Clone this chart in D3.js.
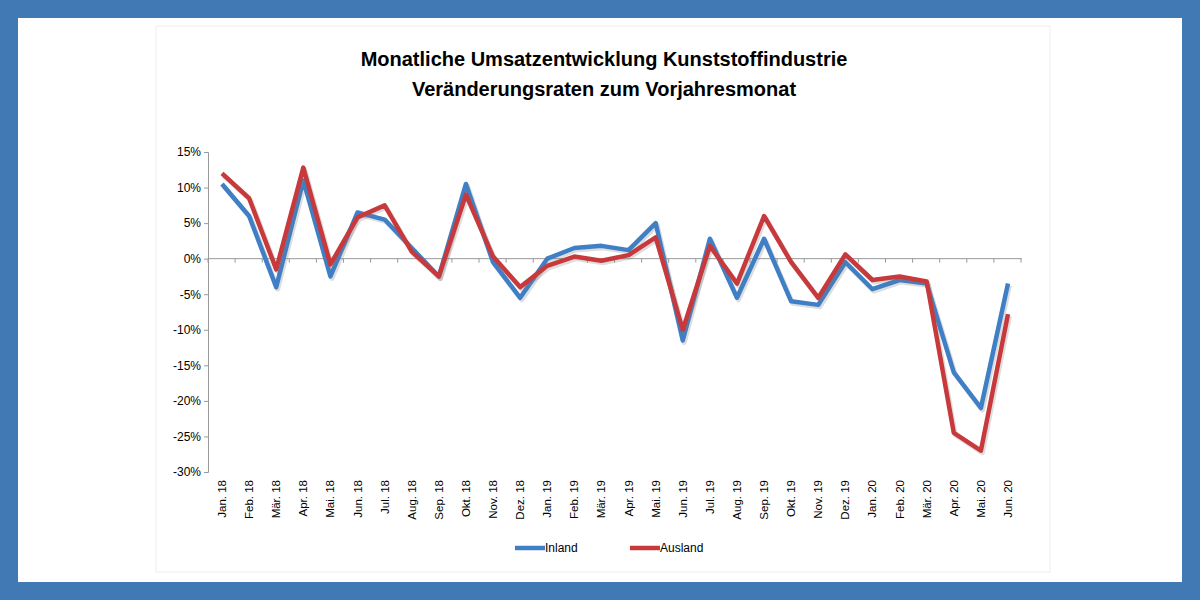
<!DOCTYPE html>
<html><head><meta charset="utf-8">
<script src="https://cdn.jsdelivr.net/npm/d3@7"></script>
<style>body{margin:0;background:#4079b3;}svg{display:block;font-family:"Liberation Sans",Arial,sans-serif;}</style>
</head><body>
<div id="chart"></div>
<script>
const months = ["Jan. 18","Feb. 18","Mär. 18","Apr. 18","Mai. 18","Jun. 18","Jul. 18","Aug. 18","Sep. 18","Okt. 18","Nov. 18","Dez. 18",
  "Jan. 19","Feb. 19","Mär. 19","Apr. 19","Mai. 19","Jun. 19","Jul. 19","Aug. 19","Sep. 19","Okt. 19","Nov. 19","Dez. 19",
  "Jan. 20","Feb. 20","Mär. 20","Apr. 20","Mai. 20","Jun. 20"];
const inland = [10.5,6,-4,11,-2.5,6.5,5.5,1.5,-2.5,10.5,-0.5,-5.5,0,1.5,1.8,1.2,5,-11.5,2.8,-5.5,2.8,-6,-6.5,-0.5,-4.3,-3,-3.5,-16,-21,-3.5];
const ausland = [12,8.5,-1.5,12.8,-0.8,5.8,7.5,1,-2.5,9,0.3,-4,-1,0.3,-0.3,0.5,3,-10,1.8,-3.5,6,-0.5,-5.5,0.6,-3,-2.5,-3.2,-24.5,-27,-7.8];
const yTicks = [15,10,5,0,-5,-10,-15,-20,-25,-30];

const svg = d3.select("#chart").append("svg").attr("width",1200).attr("height",600);
svg.append("rect").attr("width",1200).attr("height",600).attr("fill","#4079b3");
svg.append("rect").attr("x",18).attr("y",18).attr("width",1164).attr("height",564).attr("fill","#fff");
svg.append("rect").attr("x",156).attr("y",26).attr("width",894).attr("height",546)
  .attr("fill","#fff").attr("stroke","#eee");

svg.append("text").attr("x",604).attr("y",66).attr("text-anchor","middle")
  .style("font-size","20px").style("font-weight","bold").text("Monatliche Umsatzentwicklung Kunststoffindustrie");
svg.append("text").attr("x",604).attr("y",96).attr("text-anchor","middle")
  .style("font-size","20px").style("font-weight","bold").text("Veränderungsraten zum Vorjahresmonat");

const x = d3.scalePoint().domain(months).range([222,1008]);
const y = d3.scaleLinear().domain([-30,15]).range([472,152]);

// y axis
const ya = svg.append("g").attr("transform","translate(208,0)")
  .call(d3.axisLeft(y).tickValues(yTicks).tickSize(4).tickFormat(d => d + "%"));
ya.selectAll("text").style("font-size","12px").attr("fill","#000");
ya.selectAll("line,path").attr("stroke","#999");

// zero line with x ticks
svg.append("line").attr("x1",208).attr("x2",1022).attr("y1",y(0)).attr("y2",y(0)).attr("stroke","#999");
svg.append("g").selectAll("line").data(d3.range(months.length+1)).join("line")
  .attr("x1",i => 208 + i*27.1).attr("x2",i => 208 + i*27.1)
  .attr("y1",y(0)).attr("y2",y(0)+4).attr("stroke","#999");

// month labels
svg.append("g").selectAll("text").data(months).join("text")
  .attr("transform",d => `translate(${x(d)+4},480) rotate(-90)`)
  .attr("text-anchor","end").style("font-size","11.5px").text(d => d);

const line = d3.line().x((d,i) => x(months[i])).y(d => y(d));
const series = [{name:"Inland",vals:inland,c:"#3f7fc6"},{name:"Ausland",vals:ausland,c:"#c8393c"}];
series.forEach(s => {
  svg.append("path").datum(s.vals).attr("d",line).attr("fill","none")
    .attr("stroke","#777").attr("stroke-opacity",0.25).attr("stroke-width",5)
    .attr("transform","translate(1.5,2)").attr("stroke-linejoin","round");
  svg.append("path").datum(s.vals).attr("d",line).attr("fill","none")
    .attr("stroke",s.c).attr("stroke-width",4.5).attr("stroke-linejoin","round");
});

// legend
const lg = svg.append("g").selectAll("g").data(series).join("g")
  .attr("transform",(d,i) => `translate(${515 + i*115},548)`);
lg.append("line").attr("x1",0).attr("x2",30).attr("stroke",d => d.c).attr("stroke-width",4.5);
lg.append("text").attr("x",30).attr("y",4).style("font-size","12px").text(d => d.name);
</script>
</body></html>
